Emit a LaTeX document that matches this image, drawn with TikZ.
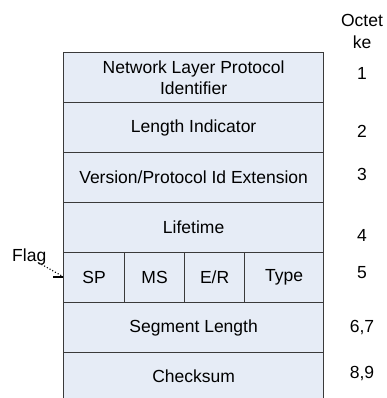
\documentclass[tikz,border=0pt]{standalone}
\usepackage{fontspec}
\setmainfont{Liberation Sans}
\definecolor{cellfill}{HTML}{E6ECF6}
\definecolor{cellline}{HTML}{3A3A3A}
\begin{document}
\begin{tikzpicture}[x=1pt,y=1pt,
  txt/.style={font=\fontsize{17.5}{21}\selectfont, text=black},
  cell/.style={txt, draw=cellline, fill=cellfill, line width=1.2pt, minimum height=50pt,
    inner sep=0pt, anchor=north west, align=center},
  wide/.style={cell, minimum width=260pt},
  lab/.style={txt, inner sep=0pt}]
\useasboundingbox (0,0) rectangle (386,-398);
% rows
\node[wide] (r1) at (63,-52) {Network Layer Protocol\\[0pt]Identifier};
\node[wide] (r2) at (63,-102) {Length Indicator};
\node[wide] (r3) at (63,-152) {Version/Protocol Id Extension};
\node[wide] (r4) at (63,-202) {Lifetime};
\node[cell, minimum width=61pt] (sp) at (63,-252) {SP};
\node[cell, minimum width=60pt] (ms) at (124,-252) {MS};
\node[cell, minimum width=60pt] (er) at (184,-252) {E/R};
\node[cell, minimum width=79pt] (type) at (244,-252) {Type};
\node[wide] (r6) at (63,-302) {Segment Length};
\node[wide, minimum height=48pt] (r7) at (63,-352) {Checksum};
% octet column
\node[lab] (oct) at (362,-20) {Octet};
\node[lab] (ke) at (362,-42) {ke};
\node[lab] (n1) at (362,-73) {1};
\node[lab] (n2) at (362,-131) {2};
\node[lab] (n3) at (362,-174) {3};
\node[lab] (n4) at (362,-235) {4};
\node[lab] (n5) at (362,-273) {5};
\node[lab] (n67) at (362,-328) {6,7};
\node[lab] (n89) at (362,-374) {8,9};
% flag callout
\node[lab, anchor=west] (flag) at (12,-257) {Flag};
\coordinate (tip) at (62,-276);
\coordinate (tickL) at (53,-277);
\draw[dotted, line width=1.1pt, black] ([xshift=-5pt,yshift=1pt]flag.south east) -- (tip);
\draw[line width=1.2pt, black] (tickL) -- (sp.west |- tickL);
\end{tikzpicture}
\end{document}
